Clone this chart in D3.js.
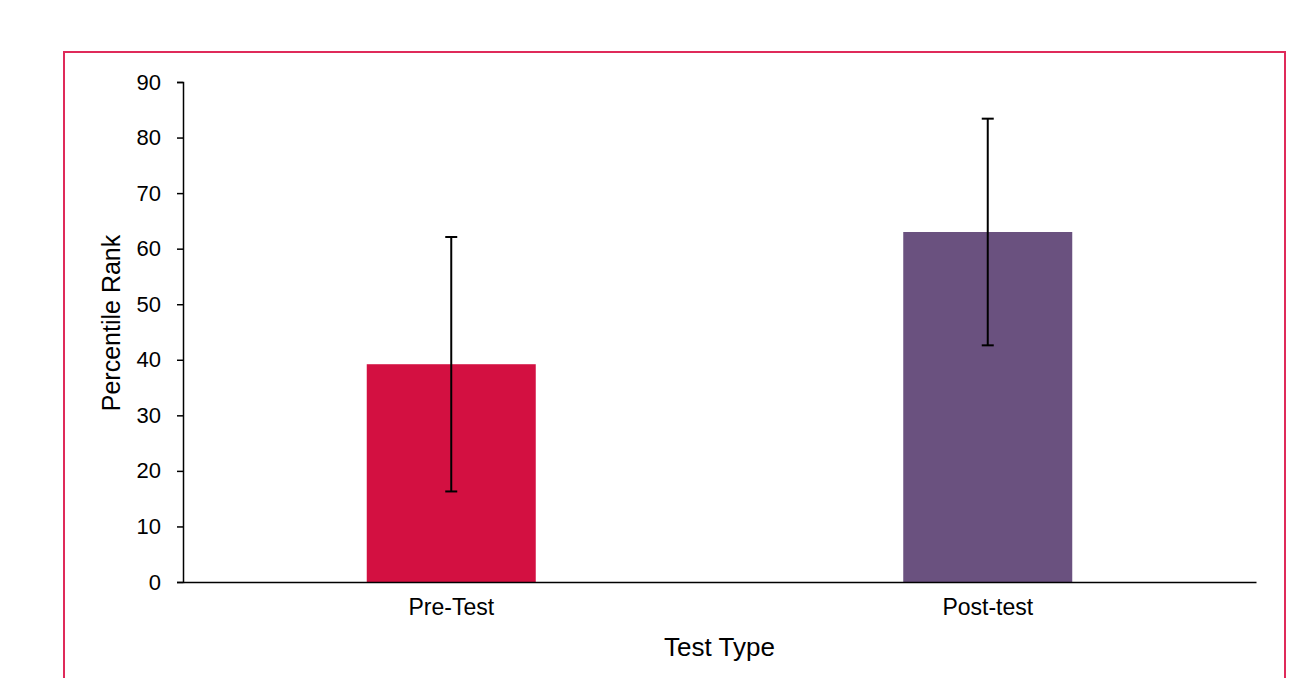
<!DOCTYPE html>
<html>
<head>
<meta charset="utf-8">
<script src="https://cdn.jsdelivr.net/npm/d3@7"></script>
<style>
  body { margin: 0; background: #fff; }
  svg { display: block; font-family: "Liberation Sans", Arial, sans-serif; }
</style>
</head>
<body>
<div id="chart"></div>
<script>
/* Percentile rank by test type, with error bars */
const categories = ["Pre-Test", "Post-test"];
const means = [39.2, 63.0];
const errors = [22.9, 20.4];
const barColors = ["#d31041", "#6a517f"];
const yTicks = [0, 10, 20, 30, 40, 50, 60, 70, 80, 90];

const W = 1290, H = 678;
const margin = { top: 82, right: 34, bottom: 96, left: 183 };
const w = W - margin.left - margin.right;
const h = H - margin.top - margin.bottom;

const svg = d3.select("#chart").append("svg")
  .attr("width", W).attr("height", H);

/* Outer chart border */
svg.append("rect")
  .attr("x", 64).attr("y", 52).attr("width", 1221).attr("height", 640)
  .attr("fill", "none").attr("stroke", "#df2a5a").attr("stroke-width", 2);

const g = svg.append("g").attr("transform", `translate(${margin.left},${margin.top})`);

const x = d3.scaleBand().domain(categories).range([0, w])
  .paddingInner(0.685).paddingOuter(0.3425);
const y = d3.scaleLinear().domain([0, 90]).range([h, 0]);

/* Bars */
g.selectAll(".bar").data(categories).enter().append("rect")
  .attr("class", "bar")
  .attr("x", d => x(d)).attr("width", x.bandwidth())
  .attr("y", (d, i) => y(means[i]))
  .attr("height", (d, i) => h - y(means[i]))
  .attr("fill", (d, i) => barColors[i]);

/* Error bars */
const eb = g.selectAll(".err").data(categories).enter().append("g").attr("class", "err")
  .attr("transform", d => `translate(${x(d) + x.bandwidth() / 2},0)`);
eb.append("line")
  .attr("y1", (d, i) => y(means[i] + errors[i]))
  .attr("y2", (d, i) => y(means[i] - errors[i]))
  .attr("stroke", "#000").attr("stroke-width", 2);
[1, -1].forEach(s => {
  eb.append("line")
    .attr("x1", -6).attr("x2", 6)
    .attr("y1", (d, i) => y(means[i] + s * errors[i]))
    .attr("y2", (d, i) => y(means[i] + s * errors[i]))
    .attr("stroke", "#000").attr("stroke-width", 2);
});

/* Axes */
const yAxis = g.append("g")
  .call(d3.axisLeft(y).tickValues(yTicks).tickSize(6).tickPadding(16).tickSizeOuter(6));
yAxis.select(".domain").attr("stroke", "#000").attr("stroke-width", 1.5);
yAxis.selectAll(".tick line").attr("stroke", "#000").attr("stroke-width", 1.5);
yAxis.selectAll("text").style("font-size", "22px").style("fill", "#000")
  .style("font-family", "'Liberation Sans', Arial, sans-serif");

const xAxis = g.append("g").attr("transform", `translate(0,${h})`)
  .call(d3.axisBottom(x).tickSize(0).tickPadding(17));
xAxis.select(".domain").attr("stroke", "#000").attr("stroke-width", 1.5);
xAxis.selectAll("text").style("font-size", "23px").style("fill", "#000")
  .style("font-family", "'Liberation Sans', Arial, sans-serif");

/* Axis titles */
g.append("text")
  .attr("transform", "rotate(-90)")
  .attr("x", -(y(45) - 9)).attr("y", -63)
  .attr("text-anchor", "middle")
  .style("font-size", "25px").style("fill", "#000")
  .text("Percentile Rank");

g.append("text")
  .attr("x", w / 2).attr("y", h + 74)
  .attr("text-anchor", "middle")
  .style("font-size", "26px").style("fill", "#000")
  .text("Test Type");
</script>
</body>
</html>
